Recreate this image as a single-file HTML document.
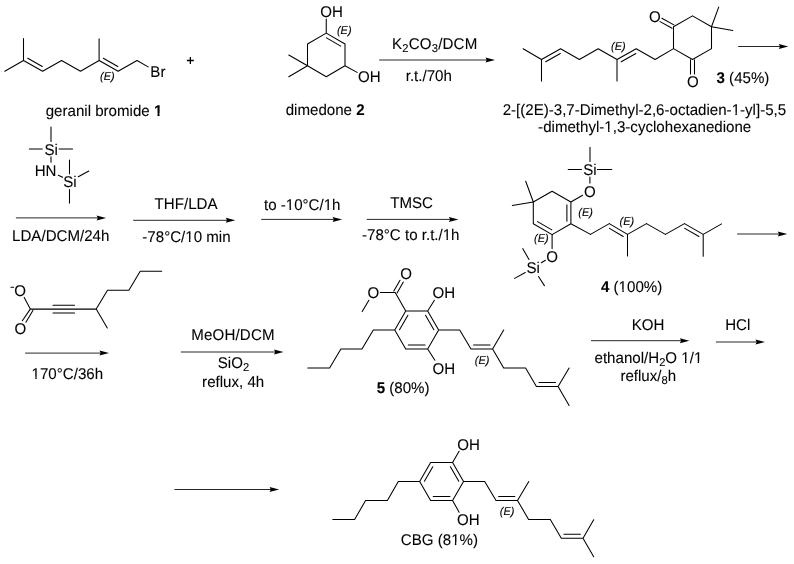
<!DOCTYPE html>
<html><head><meta charset="utf-8"><style>
html,body{margin:0;padding:0;background:#fff;width:794px;height:564px;overflow:hidden}
svg{display:block}
text{font-family:"Liberation Sans",sans-serif;text-rendering:geometricPrecision}
</style></head><body>
<svg width="794" height="564" viewBox="0 0 794 564">
<rect width="794" height="564" fill="#fff"/>
<path d="M4.80 71.20L23.50 60.50M23.50 60.50L42.60 71.20M42.60 71.20L61.60 60.50M61.60 60.50L80.50 71.20M80.50 71.20L99.10 60.50M99.10 60.50L118.10 71.20M118.10 71.20L137.00 60.50M137.00 60.50L148.20 66.90M23.50 60.50L23.50 38.60M99.10 60.50L99.10 38.80M27.72 58.28L42.29 66.44M103.33 58.29L117.80 66.44M326.25 33.10L345.00 44.00M345.00 44.00L345.00 65.80M345.00 65.80L326.25 76.70M326.25 76.70L307.50 65.80M307.50 65.80L307.50 44.00M307.50 44.00L326.25 33.10M326.49 37.86L340.74 46.15M326.25 33.10L326.25 18.90M307.50 65.80L288.80 55.00M307.50 65.80L288.80 76.70M345.00 65.80L357.10 72.40M673.50 26.80L692.50 15.90M692.50 15.90L711.50 26.80M711.50 26.80L711.50 48.60M711.50 48.60L692.50 59.50M692.50 59.50L673.50 48.60M673.50 48.60L673.50 26.80M523.10 48.70L541.50 59.50M541.50 59.50L560.60 48.70M560.60 48.70L579.40 59.50M579.40 59.50L598.20 48.70M598.20 48.70L617.00 59.50M617.00 59.50L636.20 48.70M636.20 48.70L655.10 59.50M655.10 59.50L673.50 48.60M541.50 59.50L541.50 81.00M617.00 59.50L617.00 81.00M545.73 61.70L560.31 53.46M621.23 61.71L635.89 53.46M673.89 24.85L661.87 18.26M672.06 28.18L660.05 21.60M690.50 59.80L690.50 73.90M694.50 59.80L694.50 73.90M711.50 26.80L718.70 7.10M711.50 26.80L732.80 30.50M51.00 126.90L51.00 141.50M29.30 149.00L42.30 149.00M59.10 149.00L72.60 149.00M51.00 156.70L51.00 162.30M58.30 175.20L62.60 177.30M69.50 159.90L69.50 173.80M78.30 176.80L88.80 171.00M69.50 189.40L69.50 203.10M552.10 191.20L570.89 202.05M570.89 202.05L570.89 223.75M570.89 223.75L552.10 234.60M552.10 234.60L533.31 223.75M533.31 223.75L533.31 202.05M533.31 202.05L552.10 191.20M566.89 204.65L566.89 221.15M551.85 229.84L537.56 221.59M533.31 202.05L525.70 181.30M533.31 202.05L512.30 205.50M570.89 202.05L582.60 195.20M589.90 176.90L589.90 183.10M590.00 147.30L590.00 161.50M568.20 169.50L581.50 169.50M597.40 169.50L611.80 169.50M552.10 234.60L552.10 248.60M545.40 260.20L541.40 262.70M529.00 259.50L522.70 248.60M525.30 272.50L514.60 278.40M538.50 276.50L544.40 285.60M570.89 223.75L590.50 234.40M590.50 234.40L609.30 223.60M609.30 223.60L627.50 234.40M627.50 234.40L646.50 223.60M646.50 223.60L665.40 234.40M665.40 234.40L684.50 223.60M684.50 223.60L703.20 234.40M703.20 234.40L721.60 223.90M627.50 234.40L627.50 256.00M703.20 234.40L703.20 256.30M609.49 228.37L623.22 236.51M684.75 228.36L698.95 236.56M30.30 309.10L96.20 309.10M53.00 305.30L74.50 305.30M53.00 313.00L74.50 313.00M30.30 309.10L24.20 297.40M30.30 309.10L22.30 320.80M32.90 310.40L25.90 322.20M10.90 287.30L13.60 287.30M96.20 309.10L107.30 328.00M96.20 309.10L107.50 290.20M107.50 290.20L128.90 290.20M128.90 290.20L140.20 271.20M140.20 271.20L161.70 271.20M394.76 330.00L405.73 311.00M405.73 311.00L427.67 311.00M427.67 311.00L438.64 330.00M438.64 330.00L427.67 349.00M427.67 349.00L405.73 349.00M405.73 349.00L394.76 330.00M399.52 329.75L407.89 315.25M425.51 315.25L433.88 329.75M408.33 345.00L425.07 345.00M394.76 330.00L373.30 330.00M373.30 330.00L362.00 349.00M362.00 349.00L340.90 349.00M340.90 349.00L329.60 368.00M329.60 368.00L307.80 368.00M405.73 311.00L395.20 292.40M395.20 292.40L380.30 292.40M368.90 300.20L362.20 311.60M397.10 292.91L403.33 282.08M393.80 291.02L400.04 280.18M427.67 311.00L434.40 300.30M427.67 349.00L434.90 360.30M438.64 330.00L459.70 330.00M459.70 330.00L471.00 349.00M471.00 349.00L492.60 349.00M492.60 349.00L503.70 368.00M503.70 368.00L525.60 368.00M525.60 368.00L536.40 386.50M536.40 386.50L558.10 386.50M558.10 386.50L569.10 405.50M492.60 349.00L503.70 330.00M558.10 386.50L569.10 368.00M473.60 345.00L490.00 345.00M539.00 382.50L555.50 382.50M419.66 481.50L430.63 462.50M430.63 462.50L452.57 462.50M452.57 462.50L463.54 481.50M463.54 481.50L452.57 500.50M452.57 500.50L430.63 500.50M430.63 500.50L419.66 481.50M424.42 481.25L432.79 466.75M450.41 466.75L458.78 481.25M433.23 496.50L449.97 496.50M419.66 481.50L398.30 481.50M398.30 481.50L387.40 500.50M387.40 500.50L365.60 500.50M365.60 500.50L354.60 519.40M354.60 519.40L332.80 519.40M452.57 462.50L459.10 451.20M452.57 500.50L459.10 512.20M463.54 481.50L484.70 481.50M484.70 481.50L496.00 500.50M496.00 500.50L517.50 500.50M517.50 500.50L528.60 519.40M528.60 519.40L550.30 519.40M550.30 519.40L561.30 538.30M561.30 538.30L583.00 538.30M583.00 538.30L593.70 556.70M517.50 500.50L528.80 481.50M583.00 538.30L593.70 519.70M498.60 496.50L514.90 496.50M563.90 534.30L580.40 534.30" stroke="#000" stroke-width="1.05" stroke-linecap="round" stroke-linejoin="round" fill="none"/>
<path d="M379.20 60.00L487.20 60.00M738.20 46.50L780.50 46.50M15.90 217.90L98.30 217.90M133.20 220.30L227.50 220.30M261.20 219.40L334.30 219.40M366.70 219.40L450.60 219.40M737.10 234.00L779.50 234.00M25.10 353.10L101.20 353.10M180.80 352.00L275.70 352.00M591.00 340.70L681.60 340.70M715.90 342.00L757.20 342.00M174.40 489.50L271.30 489.50" stroke="#000" stroke-width="0.85" fill="none"/>
<path d="M186.9 60.5H193.8M190.35 57.1V63.9" stroke="#000" stroke-width="1.3" fill="none"/>
<path d="M495.00 60.00L485.50 57.50L486.70 60.00L485.50 62.50Z" fill="#000"/>
<path d="M788.30 46.50L778.80 44.00L780.00 46.50L778.80 49.00Z" fill="#000"/>
<path d="M106.10 217.90L96.60 215.40L97.80 217.90L96.60 220.40Z" fill="#000"/>
<path d="M235.30 220.30L225.80 217.80L227.00 220.30L225.80 222.80Z" fill="#000"/>
<path d="M342.10 219.40L332.60 216.90L333.80 219.40L332.60 221.90Z" fill="#000"/>
<path d="M458.40 219.40L448.90 216.90L450.10 219.40L448.90 221.90Z" fill="#000"/>
<path d="M787.30 234.00L777.80 231.50L779.00 234.00L777.80 236.50Z" fill="#000"/>
<path d="M109.00 353.10L99.50 350.60L100.70 353.10L99.50 355.60Z" fill="#000"/>
<path d="M283.50 352.00L274.00 349.50L275.20 352.00L274.00 354.50Z" fill="#000"/>
<path d="M689.40 340.70L679.90 338.20L681.10 340.70L679.90 343.20Z" fill="#000"/>
<path d="M765.00 342.00L755.50 339.50L756.70 342.00L755.50 344.50Z" fill="#000"/>
<path d="M279.10 489.50L269.60 487.00L270.80 489.50L269.60 492.00Z" fill="#000"/>
<g font-family="Liberation Sans, sans-serif" fill="#000" opacity="0.999" stroke="#000" stroke-width="0.10">
<text x="150.19" y="77.00" font-size="15.10" transform="matrix(1 0 0 1.030 0 -2.310)" letter-spacing="0.3">Br</text>
<text x="100.00" y="79.53" font-size="11.00" transform="matrix(1 0 0 1.030 0 -2.386)" font-style="italic">(E)</text>
<text x="45.70" y="115.70" font-size="15.10" transform="matrix(1 0 0 1.030 0 -3.471)">geranil bromide <tspan font-weight="bold">1</tspan></text>
<text x="320.22" y="16.70" font-size="15.10" transform="matrix(1 0 0 1.030 0 -0.501)">OH</text>
<text x="358.02" y="81.80" font-size="15.10" transform="matrix(1 0 0 1.030 0 -2.454)">OH</text>
<text x="336.90" y="34.03" font-size="11.00" transform="matrix(1 0 0 1.030 0 -1.021)" font-style="italic">(E)</text>
<text x="285.70" y="114.60" font-size="15.10" transform="matrix(1 0 0 1.030 0 -3.438)">dimedone <tspan font-weight="bold">2</tspan></text>
<text x="392.09" y="48.90" font-size="15.10" transform="matrix(1 0 0 1.030 0 -1.467)" letter-spacing="0.17">K<tspan font-size="11.2" dy="3.00">2</tspan><tspan dy="-3.00">CO<tspan font-size="11.2" dy="3.00">3</tspan><tspan dy="-3.00">/DCM</tspan></tspan></text>
<text x="405.72" y="81.10" font-size="15.10" transform="matrix(1 0 0 1.030 0 -2.433)">r.t./70h</text>
<text x="611.11" y="49.73" font-size="11.00" transform="matrix(1 0 0 1.030 0 -1.492)" font-style="italic">(E)</text>
<text x="649.12" y="22.10" font-size="15.10" transform="matrix(1 0 0 1.030 0 -0.663)">O</text>
<text x="687.12" y="87.20" font-size="15.10" transform="matrix(1 0 0 1.030 0 -2.616)">O</text>
<text x="716.52" y="83.10" font-size="15.10" transform="matrix(1 0 0 1.030 0 -2.493)"><tspan font-weight="bold">3</tspan> (45%)</text>
<text x="502.64" y="114.90" font-size="15.10" transform="matrix(1 0 0 1.030 0 -3.447)">2-[(2E)-3,7-Dimethyl-2,6-octadien-1-yl]-5,5</text>
<text x="538.12" y="131.90" font-size="15.10" transform="matrix(1 0 0 1.030 0 -3.957)">-dimethyl-1,3-cyclohexanedione</text>
<text x="44.52" y="154.60" font-size="15.10" transform="matrix(1 0 0 1.030 0 -4.638)">Si</text>
<text x="34.69" y="176.40" font-size="15.10" transform="matrix(1 0 0 1.030 0 -5.292)">HN</text>
<text x="63.22" y="187.30" font-size="15.10" transform="matrix(1 0 0 1.030 0 -5.619)">Si</text>
<text x="12.09" y="240.50" font-size="15.10" transform="matrix(1 0 0 1.030 0 -7.215)">LDA/DCM/24h</text>
<text x="154.60" y="208.90" font-size="15.10" transform="matrix(1 0 0 1.030 0 -6.267)">THF/LDA</text>
<text x="142.32" y="241.70" font-size="15.10" transform="matrix(1 0 0 1.030 0 -7.251)">-78&#176;C/10 min</text>
<text x="263.97" y="210.50" font-size="15.10" transform="matrix(1 0 0 1.030 0 -6.315)">to -10&#176;C/1h</text>
<text x="390.20" y="207.80" font-size="15.10" transform="matrix(1 0 0 1.030 0 -6.234)">TMSC</text>
<text x="362.02" y="240.10" font-size="15.10" transform="matrix(1 0 0 1.030 0 -7.203)">-78&#176;C to r.t./1h</text>
<text x="583.22" y="174.60" font-size="15.10" transform="matrix(1 0 0 1.030 0 -5.238)">Si</text>
<text x="584.02" y="196.90" font-size="15.10" transform="matrix(1 0 0 1.030 0 -5.907)">O</text>
<text x="546.22" y="262.30" font-size="15.10" transform="matrix(1 0 0 1.030 0 -7.869)">O</text>
<text x="526.52" y="273.00" font-size="15.10" transform="matrix(1 0 0 1.030 0 -8.190)">Si</text>
<text x="578.25" y="216.48" font-size="11.00" transform="matrix(1 0 0 1.030 0 -6.494)" font-style="italic">(E)</text>
<text x="534.11" y="242.33" font-size="11.00" transform="matrix(1 0 0 1.030 0 -7.270)" font-style="italic">(E)</text>
<text x="619.50" y="224.93" font-size="11.00" transform="matrix(1 0 0 1.030 0 -6.748)" font-style="italic">(E)</text>
<text x="600.97" y="291.80" font-size="15.10" transform="matrix(1 0 0 1.030 0 -8.754)"><tspan font-weight="bold">4</tspan> (100%)</text>
<text x="14.22" y="296.00" font-size="15.10" transform="matrix(1 0 0 1.030 0 -8.880)">O</text>
<text x="14.52" y="333.50" font-size="15.10" transform="matrix(1 0 0 1.030 0 -10.005)">O</text>
<text x="31.57" y="379.10" font-size="15.10" transform="matrix(1 0 0 1.030 0 -11.373)">170&#176;C/36h</text>
<text x="191.29" y="340.10" font-size="15.10" transform="matrix(1 0 0 1.030 0 -10.203)" letter-spacing="0.15">MeOH/DCM</text>
<text x="217.72" y="367.80" font-size="15.10" transform="matrix(1 0 0 1.030 0 -11.034)">SiO<tspan font-size="11.2" dy="3.00">2</tspan><tspan dy="-3.00"></tspan></text>
<text x="202.12" y="386.60" font-size="15.10" transform="matrix(1 0 0 1.030 0 -11.598)">reflux, 4h</text>
<text x="367.42" y="298.10" font-size="15.10" transform="matrix(1 0 0 1.030 0 -8.943)">O</text>
<text x="400.22" y="279.40" font-size="15.10" transform="matrix(1 0 0 1.030 0 -8.382)">O</text>
<text x="432.62" y="298.20" font-size="15.10" transform="matrix(1 0 0 1.030 0 -8.946)">OH</text>
<text x="432.52" y="373.80" font-size="15.10" transform="matrix(1 0 0 1.030 0 -11.214)">OH</text>
<text x="474.81" y="364.03" font-size="11.00" transform="matrix(1 0 0 1.030 0 -10.921)" font-style="italic">(E)</text>
<text x="376.65" y="393.00" font-size="15.10" transform="matrix(1 0 0 1.030 0 -11.790)"><tspan font-weight="bold">5</tspan> (80%)</text>
<text x="631.79" y="329.90" font-size="15.10" transform="matrix(1 0 0 1.030 0 -9.897)">KOH</text>
<text x="594.50" y="363.20" font-size="15.10" transform="matrix(1 0 0 1.030 0 -10.896)">ethanol/H<tspan font-size="11.2" dy="3.00">2</tspan><tspan dy="-3.00">O 1/1</tspan></text>
<text x="620.42" y="381.50" font-size="15.10" transform="matrix(1 0 0 1.030 0 -11.445)">reflux/<tspan font-size="11.2" dy="2.00">8</tspan><tspan dy="-2.00">h</tspan></text>
<text x="725.19" y="330.30" font-size="15.10" transform="matrix(1 0 0 1.030 0 -9.909)">HCl</text>
<text x="457.22" y="449.60" font-size="15.10" transform="matrix(1 0 0 1.030 0 -13.488)">OH</text>
<text x="456.92" y="525.10" font-size="15.10" transform="matrix(1 0 0 1.030 0 -15.753)">OH</text>
<text x="499.75" y="515.03" font-size="11.00" transform="matrix(1 0 0 1.030 0 -15.451)" font-style="italic">(E)</text>
<text x="400.85" y="544.80" font-size="15.10" transform="matrix(1 0 0 1.030 0 -16.344)">CBG (81%)</text>
</g><g fill="#fff"><rect x="153.99" y="113.01" width="3.42" height="3.09" transform="matrix(1 0 0 1.030 0 -3.471)"/><rect x="159.58" y="113.01" width="3.23" height="3.09" transform="matrix(1 0 0 1.030 0 -3.471)"/><rect x="731.89" y="112.62" width="3.50" height="2.68" transform="matrix(1 0 0 1.030 0 -3.447)"/><rect x="736.82" y="112.62" width="3.38" height="2.68" transform="matrix(1 0 0 1.030 0 -3.447)"/><rect x="604.62" y="129.62" width="3.50" height="2.68" transform="matrix(1 0 0 1.030 0 -3.957)"/><rect x="609.55" y="129.62" width="3.38" height="2.68" transform="matrix(1 0 0 1.030 0 -3.957)"/><rect x="185.51" y="239.42" width="3.50" height="2.68" transform="matrix(1 0 0 1.030 0 -7.251)"/><rect x="190.44" y="239.42" width="3.38" height="2.68" transform="matrix(1 0 0 1.030 0 -7.251)"/><rect x="286.02" y="208.22" width="3.50" height="2.68" transform="matrix(1 0 0 1.030 0 -6.315)"/><rect x="290.95" y="208.22" width="3.38" height="2.68" transform="matrix(1 0 0 1.030 0 -6.315)"/><rect x="323.94" y="208.22" width="3.50" height="2.68" transform="matrix(1 0 0 1.030 0 -6.315)"/><rect x="328.87" y="208.22" width="3.38" height="2.68" transform="matrix(1 0 0 1.030 0 -6.315)"/><rect x="442.96" y="237.82" width="3.50" height="2.68" transform="matrix(1 0 0 1.030 0 -7.203)"/><rect x="447.89" y="237.82" width="3.38" height="2.68" transform="matrix(1 0 0 1.030 0 -7.203)"/><rect x="618.85" y="289.52" width="3.50" height="2.68" transform="matrix(1 0 0 1.030 0 -8.754)"/><rect x="623.78" y="289.52" width="3.38" height="2.68" transform="matrix(1 0 0 1.030 0 -8.754)"/><rect x="31.82" y="376.82" width="3.50" height="2.68" transform="matrix(1 0 0 1.030 0 -11.373)"/><rect x="36.75" y="376.82" width="3.38" height="2.68" transform="matrix(1 0 0 1.030 0 -11.373)"/><rect x="681.53" y="360.92" width="3.50" height="2.68" transform="matrix(1 0 0 1.030 0 -10.896)"/><rect x="686.46" y="360.92" width="3.38" height="2.68" transform="matrix(1 0 0 1.030 0 -10.896)"/><rect x="694.13" y="360.92" width="3.50" height="2.68" transform="matrix(1 0 0 1.030 0 -10.896)"/><rect x="699.06" y="360.92" width="3.38" height="2.68" transform="matrix(1 0 0 1.030 0 -10.896)"/><rect x="451.41" y="542.52" width="3.50" height="2.68" transform="matrix(1 0 0 1.030 0 -16.344)"/><rect x="456.34" y="542.52" width="3.38" height="2.68" transform="matrix(1 0 0 1.030 0 -16.344)"/></g></svg>
</body></html>
